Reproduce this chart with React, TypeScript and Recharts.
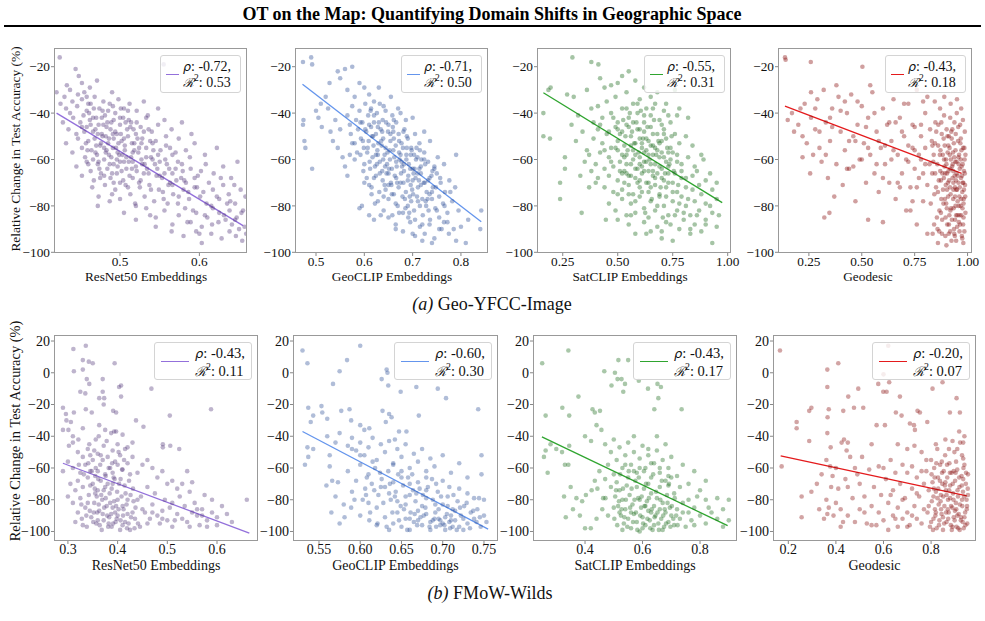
import React from 'react';
import { ScatterChart, Scatter, XAxis, YAxis, ReferenceLine } from 'recharts';

type Pt = [number, number];

const SERIF = '"Liberation Serif", "Times New Roman", serif';

// ---------- (a) Geo-YFCC-Image ----------
const yfccResnet: Pt[] = [
  [0.424,-16],[0.444,-21],[0.448,-24],[0.433,-28],[0.42,-31],[0.437,-30],[0.452,-27],[0.462,-29],[0.471,-26],[0.458,-33],[0.555,-19],[0.43,-33],[0.447,-32],[0.49,-31],
  [0.425,-36],[0.432,-38],[0.44,-35],[0.446,-37],[0.452,-34],[0.458,-39],[0.463,-36],[0.468,-33],[0.474,-38],[0.479,-35],[0.485,-39],[0.491,-37],[0.498,-34],[0.505,-38],[0.512,-36],[0.521,-39],[0.437,-40],[0.455,-31],[0.53,-35],[0.548,-38],
  [0.428,-44],[0.435,-47],[0.441,-42],[0.445,-49],[0.45,-44],[0.454,-41],[0.458,-46],[0.462,-43],[0.466,-48],[0.47,-42],[0.473,-45],[0.477,-49],[0.481,-41],[0.484,-44],[0.488,-47],[0.492,-43],[0.496,-49],[0.5,-45],[0.504,-42],[0.509,-47],[0.514,-44],[0.52,-49],[0.526,-46],[0.533,-42],[0.54,-48],[0.548,-45],[0.556,-43],[0.565,-47],[0.578,-44],[0.59,-49],
  [0.432,-53],[0.44,-57],[0.447,-51],[0.452,-55],[0.456,-59],[0.46,-52],[0.464,-56],[0.468,-51],[0.471,-58],[0.475,-54],[0.478,-50],[0.482,-57],[0.485,-53],[0.489,-59],[0.492,-51],[0.495,-55],[0.499,-58],[0.502,-52],[0.506,-56],[0.51,-50],[0.514,-59],[0.518,-53],[0.523,-57],[0.528,-51],[0.533,-55],[0.539,-59],[0.545,-52],[0.551,-56],[0.558,-54],[0.566,-58],[0.574,-51],[0.583,-56],[0.594,-53],[0.607,-58],[0.622,-55],
  [0.445,-63],[0.452,-67],[0.458,-61],[0.463,-65],[0.467,-69],[0.472,-62],[0.476,-66],[0.48,-60],[0.484,-64],[0.488,-68],[0.492,-62],[0.496,-66],[0.5,-61],[0.504,-69],[0.508,-64],[0.512,-67],[0.516,-61],[0.521,-65],[0.526,-69],[0.531,-62],[0.536,-66],[0.541,-60],[0.547,-64],[0.553,-68],[0.559,-62],[0.566,-66],[0.573,-61],[0.581,-69],[0.589,-64],[0.598,-67],[0.608,-62],[0.618,-66],[0.63,-63],[0.64,-68],[0.648,-61],
  [0.465,-72],[0.473,-76],[0.481,-71],[0.487,-78],[0.494,-73],[0.5,-77],[0.507,-71],[0.513,-75],[0.519,-79],[0.525,-72],[0.531,-76],[0.537,-71],[0.543,-78],[0.549,-73],[0.555,-77],[0.561,-71],[0.567,-75],[0.573,-79],[0.58,-73],[0.587,-77],[0.594,-72],[0.601,-76],[0.609,-79],[0.617,-73],[0.625,-77],[0.63,-71],[0.637,-75],[0.645,-79],[0.652,-73],[0.658,-76],
  [0.472,-80],[0.505,-83],[0.52,-86],[0.533,-81],[0.545,-85],[0.556,-82],[0.566,-88],[0.574,-84],[0.582,-81],[0.589,-87],[0.596,-83],[0.603,-89],[0.61,-85],[0.617,-81],[0.624,-87],[0.631,-84],[0.638,-82],[0.641,-88],[0.647,-85],[0.653,-83],[0.657,-89],[0.545,-89],
  [0.565,-91],[0.58,-93],[0.596,-91],[0.603,-96],[0.615,-92],[0.628,-94],[0.638,-91],[0.646,-93],[0.654,-95],[0.659,-92],
  [0.461,-40],[0.469,-47],[0.476,-53],[0.483,-46],[0.487,-62],[0.491,-55],[0.494,-40],[0.497,-63],[0.501,-49],[0.503,-58],[0.507,-44],[0.511,-61],[0.515,-53],[0.517,-47],[0.52,-63],[0.524,-55],[0.527,-60],[0.53,-48],[0.534,-64],[0.538,-52],
  [0.469,-57],[0.474,-64],[0.479,-45],[0.486,-51],[0.49,-66],[0.498,-53],[0.505,-61],[0.51,-39],[0.455,-48],[0.459,-56],[0.466,-60],[0.48,-55],[0.5,-70],[0.516,-68],[0.544,-62],[0.55,-67],[0.557,-60],[0.563,-70],[0.57,-64],[0.577,-68],
  [0.452,-46],[0.457,-53],[0.46,-62],[0.463,-45],[0.467,-38],[0.47,-54],[0.473,-61],[0.477,-42],[0.48,-67],[0.482,-50],[0.486,-58],[0.489,-44],[0.492,-70],[0.494,-48],[0.497,-57],[0.5,-42],[0.502,-65],[0.505,-51],[0.508,-59],[0.51,-72],
  [0.513,-46],[0.515,-64],[0.518,-56],[0.521,-44],[0.524,-70],[0.527,-53],[0.53,-66],[0.533,-59],[0.536,-47],[0.539,-73],[0.542,-56],[0.546,-67],[0.55,-61],[0.554,-74],[0.558,-50],[0.562,-64],[0.566,-71],[0.57,-57],[0.574,-76],[0.578,-62],
  [0.583,-70],[0.588,-59],[0.592,-82],[0.597,-72],[0.602,-65],[0.607,-84],[0.612,-70],[0.616,-88],[0.622,-76],[0.627,-68],[0.633,-86],[0.639,-78],[0.644,-71],[0.65,-90],[0.655,-82],[0.46,-36],[0.466,-42],[0.472,-49],[0.478,-39],[0.483,-56],
  [0.487,-36],[0.491,-49],[0.496,-60],[0.501,-38],[0.506,-54],[0.511,-43],[0.516,-57],[0.522,-51],[0.528,-62],[0.535,-41],[0.541,-53],[0.548,-58],[0.556,-66],[0.563,-55],[0.571,-69],[0.579,-65],[0.586,-74],[0.594,-68],[0.605,-74],[0.615,-80],
  [0.625,-83],[0.635,-79],[0.645,-86],[0.52,-80],[0.538,-84],[0.56,-79],[0.585,-87],[0.6,-92],[0.475,-68],[0.49,-75],
];

const yfccGeoclip: Pt[] = [
  [0.473,-18],[0.49,-16],[0.492,-19],[0.474,-43],[0.473,-45],[0.476,-52],[0.478,-55],[0.492,-64],[0.5,-39],[0.51,-36],[0.505,-42],[0.512,-46],[0.52,-33],[0.525,-38],[0.53,-48],[0.535,-52],[0.528,-27],[0.545,-22],[0.55,-25],[0.56,-21],[0.575,-20],[0.59,-27],[0.565,-30],[0.58,-33],[0.6,-29],[0.61,-32],[0.62,-35],[0.63,-29],[0.64,-37],[0.655,-33],[0.67,-38],[0.54,-43],[0.55,-47],[0.545,-55],[0.555,-59],[0.56,-63],[0.57,-58],[0.565,-67],[0.59,-81],[0.595,-80],[0.6,-70],[0.615,-75],[0.61,-84],[0.62,-86],
  [0.565,-41],[0.575,-37],[0.583,-43],[0.59,-39],[0.596,-44],[0.602,-36],[0.608,-41],[0.614,-38],[0.62,-44],[0.626,-40],[0.632,-36],[0.638,-43],[0.644,-39],[0.65,-45],[0.658,-41],[0.666,-44],[0.675,-40],[0.686,-43],[0.7,-42],
  [0.572,-49],[0.58,-53],[0.587,-47],[0.593,-51],[0.599,-55],[0.604,-48],[0.609,-52],[0.614,-46],[0.619,-54],[0.624,-49],[0.629,-53],[0.634,-47],[0.639,-51],[0.644,-55],[0.649,-48],[0.654,-52],[0.659,-46],[0.665,-54],[0.671,-49],[0.677,-53],[0.683,-47],[0.69,-51],[0.697,-55],[0.705,-49],[0.714,-53],[0.724,-48],[0.736,-52],
  [0.592,-58],[0.6,-62],[0.606,-57],[0.612,-64],[0.617,-59],[0.622,-63],[0.627,-56],[0.632,-61],[0.637,-65],[0.642,-58],[0.647,-62],[0.652,-56],[0.657,-64],[0.662,-59],[0.667,-63],[0.672,-57],[0.677,-61],[0.682,-65],[0.687,-58],[0.692,-62],[0.698,-56],[0.704,-64],[0.71,-59],[0.717,-63],[0.724,-57],[0.732,-61],[0.741,-65],[0.752,-59],[0.765,-62],[0.79,-58],
  [0.605,-68],[0.615,-72],[0.624,-67],[0.631,-74],[0.638,-69],[0.644,-73],[0.65,-66],[0.656,-71],[0.661,-75],[0.666,-68],[0.671,-72],[0.676,-66],[0.681,-70],[0.686,-74],[0.691,-67],[0.696,-71],[0.701,-75],[0.706,-68],[0.711,-72],[0.717,-66],[0.723,-70],[0.729,-74],[0.735,-68],[0.742,-72],[0.75,-66],[0.758,-70],[0.767,-74],[0.776,-69],[0.788,-72],
  [0.628,-78],[0.64,-82],[0.65,-77],[0.658,-84],[0.665,-79],[0.672,-83],[0.679,-76],[0.685,-81],[0.691,-85],[0.697,-78],[0.703,-82],[0.709,-76],[0.715,-80],[0.721,-84],[0.727,-78],[0.733,-82],[0.74,-77],[0.747,-81],[0.755,-85],[0.763,-79],[0.772,-83],[0.782,-78],[0.795,-82],
  [0.665,-88],[0.68,-91],[0.695,-87],[0.705,-93],[0.715,-89],[0.725,-92],[0.735,-88],[0.745,-94],[0.755,-90],[0.765,-87],[0.775,-92],[0.79,-95],[0.81,-96],[0.8,-89],[0.842,-82],[0.84,-90],[0.815,-86],
  [0.618,-50],[0.628,-58],[0.636,-54],[0.646,-66],[0.653,-60],[0.661,-51],[0.668,-70],[0.675,-58],[0.682,-62],[0.688,-55],[0.694,-76],[0.7,-64],[0.707,-60],[0.713,-69],[0.72,-77],[0.726,-62],[0.61,-45],[0.63,-44],[0.66,-48],[0.69,-80],[0.7,-69],[0.715,-56],[0.735,-75],[0.745,-63],[0.64,-76],[0.65,-71],
  [0.602,-47],[0.607,-55],[0.611,-61],[0.616,-50],[0.62,-68],[0.624,-58],[0.628,-46],[0.632,-66],[0.635,-52],[0.639,-60],[0.642,-71],[0.645,-44],[0.648,-57],[0.651,-64],[0.654,-49],[0.657,-75],[0.66,-56],[0.663,-67],[0.666,-61],[0.669,-80],
  [0.672,-52],[0.675,-70],[0.678,-63],[0.681,-48],[0.684,-77],[0.687,-60],[0.69,-69],[0.693,-83],[0.696,-58],[0.699,-73],[0.702,-66],[0.705,-86],[0.708,-55],[0.711,-78],[0.714,-64],[0.717,-71],[0.72,-88],[0.724,-60],[0.728,-80],[0.732,-69],
  [0.736,-86],[0.74,-74],[0.745,-64],[0.75,-82],[0.755,-76],[0.76,-90],[0.766,-80],[0.772,-87],[0.778,-74],[0.785,-90],[0.592,-44],[0.597,-52],[0.613,-39],[0.626,-62],[0.637,-48],[0.643,-63],[0.655,-70],[0.661,-43],[0.673,-60],[0.68,-55],
  [0.688,-50],[0.695,-64],[0.703,-58],[0.71,-66],[0.718,-60],[0.725,-70],[0.731,-77],[0.739,-67],[0.748,-72],[0.757,-68],[0.585,-57],[0.598,-65],[0.61,-71],[0.622,-79],[0.634,-84],[0.65,-85],[0.665,-90],[0.68,-83],[0.7,-92],[0.72,-95],
  [0.74,-96],[0.575,-53],[0.62,-41],[0.57,-45],[0.58,-60],
];

const yfccSatclip: Pt[] = [
  [0.162,-40],[0.162,-50],[0.192,-51],[0.185,-30],[0.195,-29],[0.238,-70],[0.238,-77],[0.26,-59],[0.26,-64],[0.294,-16],[0.27,-32],[0.3,-33],[0.32,-41],[0.336,-83],[0.38,-18],[0.412,-19],[0.446,-86],[0.29,-45],[0.31,-52],[0.34,-48],[0.35,-61],[0.36,-56],[0.33,-67],[0.37,-72],[0.39,-44],[0.38,-38],[0.36,-30],[0.42,-25],[0.44,-29],[0.47,-28],[0.5,-27],[0.52,-24],[0.55,-22],[0.58,-26],[0.62,-29],[0.65,-33],[0.68,-31],[0.72,-36],[0.76,-30],[0.78,-38],[0.82,-42],
  [0.41,-37],[0.43,-42],[0.45,-35],[0.47,-40],[0.49,-33],[0.5,-44],[0.52,-38],[0.54,-31],[0.55,-42],[0.57,-36],[0.59,-40],[0.6,-34],[0.62,-44],[0.63,-38],[0.65,-41],[0.67,-36],[0.69,-43],[0.71,-39],[0.74,-44],[0.77,-41],
  [0.39,-51],[0.41,-47],[0.43,-53],[0.45,-49],[0.47,-55],[0.49,-46],[0.5,-52],[0.52,-48],[0.53,-54],[0.55,-46],[0.56,-50],[0.58,-53],[0.59,-47],[0.6,-51],[0.61,-55],[0.62,-48],[0.64,-52],[0.65,-46],[0.66,-54],[0.68,-49],[0.69,-53],[0.71,-47],[0.72,-51],[0.74,-55],[0.76,-49],[0.78,-53],[0.81,-50],[0.84,-54],
  [0.37,-58],[0.4,-62],[0.42,-57],[0.44,-64],[0.46,-59],[0.48,-63],[0.5,-56],[0.51,-61],[0.53,-65],[0.54,-58],[0.56,-62],[0.57,-56],[0.58,-64],[0.6,-59],[0.61,-63],[0.62,-57],[0.63,-61],[0.64,-65],[0.66,-58],[0.67,-62],[0.68,-56],[0.7,-64],[0.71,-59],[0.73,-63],[0.75,-57],[0.77,-61],[0.79,-65],[0.82,-59],[0.85,-63],[0.89,-60],
  [0.41,-68],[0.44,-72],[0.46,-67],[0.48,-74],[0.5,-69],[0.52,-73],[0.54,-66],[0.55,-71],[0.57,-75],[0.58,-68],[0.6,-72],[0.61,-66],[0.63,-70],[0.64,-74],[0.66,-67],[0.67,-71],[0.69,-75],[0.7,-68],[0.72,-72],[0.73,-66],[0.75,-70],[0.77,-74],[0.79,-68],[0.81,-72],[0.84,-67],[0.87,-71],[0.9,-69],[0.93,-73],
  [0.46,-79],[0.49,-82],[0.52,-77],[0.54,-84],[0.56,-79],[0.58,-83],[0.6,-76],[0.62,-81],[0.64,-85],[0.65,-78],[0.67,-82],[0.69,-76],[0.71,-80],[0.73,-84],[0.75,-78],[0.77,-82],[0.79,-76],[0.81,-80],[0.83,-84],[0.85,-78],[0.87,-82],[0.9,-79],[0.93,-83],[0.95,-77],
  [0.5,-86],[0.55,-88],[0.58,-92],[0.62,-87],[0.65,-91],[0.68,-89],[0.7,-94],[0.72,-87],[0.75,-95],[0.78,-90],[0.8,-86],[0.83,-92],[0.85,-88],[0.88,-91],[0.9,-86],[0.93,-96],[0.95,-89],[0.96,-84],
  [0.51,-49],[0.53,-59],[0.55,-67],[0.57,-44],[0.58,-58],[0.59,-70],[0.6,-47],[0.61,-53],[0.62,-65],[0.63,-51],[0.64,-58],[0.65,-62],[0.66,-49],[0.67,-55],[0.68,-66],[0.69,-59],[0.7,-52],[0.71,-69],[0.72,-61],[0.73,-57],[0.62,-41],[0.6,-62],[0.56,-54],[0.54,-45],[0.65,-72],[0.7,-45],[0.74,-60],[0.76,-66],
  [0.49,-55],[0.5,-47],[0.51,-65],[0.52,-58],[0.525,-43],[0.53,-70],[0.535,-50],[0.54,-62],[0.545,-56],[0.55,-75],[0.555,-40],[0.56,-67],[0.565,-48],[0.57,-60],[0.575,-53],[0.58,-78],[0.585,-44],[0.59,-64],[0.595,-57],[0.6,-69],
  [0.605,-39],[0.61,-74],[0.615,-51],[0.62,-61],[0.625,-83],[0.63,-56],[0.635,-46],[0.64,-70],[0.645,-60],[0.65,-54],[0.655,-77],[0.66,-65],[0.665,-43],[0.67,-68],[0.675,-58],[0.68,-80],[0.685,-52],[0.69,-63],[0.695,-72],[0.7,-57],
  [0.705,-85],[0.71,-49],[0.715,-66],[0.72,-76],[0.725,-55],[0.73,-70],[0.735,-62],[0.74,-88],[0.745,-50],[0.75,-74],[0.755,-65],[0.76,-84],[0.77,-58],[0.775,-71],[0.78,-79],[0.79,-62],[0.8,-83],[0.81,-68],[0.82,-77],[0.83,-90],
  [0.84,-73],[0.86,-84],[0.88,-75],[0.9,-88],[0.92,-80],[0.46,-48],[0.47,-61],[0.48,-42],[0.5,-75],[0.52,-66],[0.54,-38],[0.56,-84],[0.59,-36],[0.63,-92],[0.66,-38],[0.7,-91],[0.73,-41],[0.44,-56],[0.42,-45],[0.4,-70],
  [0.38,-65],[0.86,-65],[0.88,-58],[0.92,-66],[0.95,-70],
];

const yfccGeodesic: Pt[] = [
  [0.137,-16],[0.14,-17],[0.259,-18],[0.503,-20],[0.256,-66],[0.323,-85],[0.347,-83],[0.53,-86],[0.6,-87],
  [0.15,-43],[0.17,-40],[0.18,-48],[0.2,-45],[0.21,-38],[0.22,-50],[0.23,-36],[0.24,-53],[0.26,-42],[0.27,-58],[0.28,-47],[0.29,-34],[0.3,-55],[0.31,-61],[0.32,-30],[0.33,-44],[0.34,-68],[0.35,-52],[0.36,-38],[0.37,-76],[0.38,-62],[0.39,-33],[0.4,-48],[0.41,-71],[0.42,-56],[0.43,-40],[0.44,-64],[0.45,-32],[0.46,-50],[0.47,-78],[0.48,-45],[0.49,-60],[0.5,-37],[0.51,-53],[0.52,-70],[0.53,-42],[0.54,-58],[0.55,-31],[0.56,-66],[0.57,-48],[0.58,-74],[0.59,-55],[0.6,-38],[0.61,-62],[0.62,-45],[0.63,-70],[0.64,-52],[0.65,-34],[0.66,-77],[0.67,-58],[0.68,-42],[0.69,-66],[0.7,-50],[0.71,-82],[0.72,-36],[0.72,-61],[0.73,-72],[0.74,-45],[0.75,-56],[0.76,-88],[0.76,-30],[0.77,-68],[0.78,-50],[0.79,-78],[0.8,-40],[0.8,-62],[0.81,-92],[0.81,-33],
  [0.28,-38],[0.36,-46],[0.38,-28],[0.42,-35],[0.44,-52],[0.46,-63],[0.48,-35],[0.52,-46],[0.54,-28],[0.56,-40],[0.58,-52],[0.6,-68],[0.64,-60],[0.66,-44],[0.68,-72],[0.7,-36],[0.72,-54],[0.74,-78],[0.75,-46],[0.78,-60],[0.79,-35],[0.33,-58],[0.26,-31],[0.22,-59],
  [0.823,-47],[0.838,-61],[0.846,-53],[0.851,-72],[0.862,-45],[0.869,-58],[0.874,-83],[0.881,-66],[0.887,-51],[0.893,-77],[0.898,-60],[0.904,-88],[0.909,-54],[0.913,-69],[0.918,-42],[0.922,-81],[0.927,-63],[0.931,-57],[0.936,-90],[0.94,-72],[0.944,-49],[0.948,-66],[0.952,-84],[0.957,-59],[0.961,-76],[0.965,-45],[0.969,-68],[0.973,-93],[0.977,-62],[0.981,-79],[0.985,-55],[0.988,-71],
  [0.826,-79],[0.833,-66],[0.842,-88],[0.857,-62],[0.866,-91],[0.878,-49],[0.884,-73],[0.891,-63],[0.896,-85],[0.901,-47],[0.907,-70],[0.911,-92],[0.916,-58],[0.92,-75],[0.925,-51],[0.929,-68],[0.934,-81],[0.938,-44],[0.942,-61],[0.946,-95],[0.95,-73],[0.955,-52],[0.959,-87],[0.963,-64],[0.967,-80],[0.971,-56],[0.975,-74],[0.979,-88],[0.983,-65],[0.987,-48],[0.99,-83],
  [0.831,-52],[0.848,-44],[0.855,-85],[0.864,-69],[0.872,-56],[0.879,-92],[0.889,-41],[0.894,-66],[0.899,-79],[0.906,-57],[0.914,-84],[0.919,-64],[0.924,-95],[0.928,-47],[0.933,-73],[0.937,-59],[0.941,-86],[0.945,-69],[0.949,-40],[0.953,-78],[0.958,-62],[0.962,-91],[0.966,-53],[0.97,-84],[0.974,-67],[0.978,-43],[0.982,-77],[0.986,-60],
  [0.845,-35],[0.87,-38],[0.89,-33],[0.92,-36],[0.95,-34],[0.97,-38],[0.86,-96],[0.9,-97],[0.94,-93],[0.98,-96],[0.835,-92],[0.876,-77],[0.903,-66],[0.932,-65],[0.957,-70],[0.98,-70],[0.912,-50],[0.943,-80],[0.968,-60],
  [0.84,-58],[0.843,-75],[0.852,-48],[0.858,-90],[0.861,-54],[0.867,-82],[0.871,-65],[0.876,-44],[0.88,-86],[0.883,-58],[0.886,-79],[0.888,-68],[0.892,-54],[0.895,-93],[0.897,-71],[0.9,-62],[0.902,-81],[0.905,-50],[0.908,-76],[0.91,-65],
  [0.912,-88],[0.915,-55],[0.917,-72],[0.919,-82],[0.921,-60],[0.923,-48],[0.926,-86],[0.93,-62],[0.932,-77],[0.935,-53],[0.937,-92],[0.939,-67],[0.941,-76],[0.943,-56],[0.946,-84],[0.948,-61],[0.951,-89],[0.953,-67],[0.956,-46],[0.958,-80],
  [0.96,-58],[0.963,-72],[0.965,-88],[0.968,-51],[0.97,-77],[0.972,-63],[0.975,-94],[0.977,-70],[0.979,-55],[0.981,-85],[0.983,-73],[0.985,-91],[0.987,-66],[0.989,-76],[0.99,-58],[0.976,-81],[0.962,-84],[0.947,-73],[0.933,-70],[0.918,-91],
  [0.903,-73],[0.889,-60],[0.874,-69],[0.86,-74],[0.847,-66],[0.834,-54],[0.82,-62],[0.81,-71],[0.8,-55],[0.79,-66],[0.78,-45],[0.77,-58],[0.76,-72],[0.75,-64],[0.74,-55],[0.73,-82],[0.71,-60],[0.69,-48],[0.67,-70],[0.65,-56],
  [0.63,-44],[0.61,-54],[0.57,-62],[0.53,-55],[0.5,-60],[0.47,-52],[0.43,-64],[0.4,-39],[0.35,-42],[0.3,-48],
];

// ---------- (b) FMoW-Wilds ----------
const fmowResnet: Pt[] = [
  [0.311,15],[0.336,17],[0.33,8],[0.342,7],[0.35,6],[0.394,6],[0.312,1],[0.33,2],[0.338,-4],[0.343,-7],[0.37,-4],[0.403,-9],[0.407,-8],[0.468,-10],[0.325,-12],[0.335,-13],[0.37,-12],[0.373,-16],[0.363,-16],[0.407,-15],[0.29,-22],[0.372,-20],[0.312,-25],[0.296,-26],[0.336,-23],[0.348,-25],[0.391,-24],[0.397,-25],[0.437,-30],[0.588,-23],[0.505,-27],[0.452,-34],[0.297,-30],[0.306,-31],[0.29,-36],[0.301,-36],[0.31,-40],[0.33,-35],[0.363,-33],[0.375,-36],[0.393,-37],[0.397,-37],[0.41,-39],[0.362,-40],[0.321,-42],[0.31,-44],[0.302,-46],
  [0.491,-45],[0.491,-47],[0.506,-46],[0.524,-48],[0.32,-50],[0.33,-53],[0.34,-48],[0.35,-55],[0.36,-51],[0.365,-58],[0.372,-46],[0.38,-53],[0.385,-60],[0.39,-49],[0.395,-56],[0.4,-45],[0.405,-52],[0.41,-61],[0.415,-48],[0.42,-57],[0.43,-53],[0.44,-63],[0.45,-58],[0.47,-60],[0.48,-66],[0.3,-56],[0.29,-62],[0.31,-60],[0.325,-63],[0.335,-58],[0.345,-62],[0.355,-65],[0.345,-52],[0.36,-62],[0.375,-64],[0.39,-63],[0.4,-58],[0.425,-64],[0.46,-55],[0.49,-62],[0.51,-68],[0.55,-69],[0.42,-47],[0.43,-44],
  [0.305,-70],[0.315,-74],[0.32,-68],[0.325,-79],[0.33,-72],[0.335,-85],[0.34,-66],[0.342,-77],[0.347,-91],[0.35,-70],[0.353,-82],[0.357,-95],[0.36,-74],[0.363,-87],[0.366,-68],[0.369,-80],[0.372,-93],[0.375,-72],[0.378,-84],[0.381,-97],[0.384,-76],[0.387,-89],[0.39,-70],[0.393,-81],[0.396,-94],[0.399,-75],[0.402,-86],[0.405,-99],[0.408,-78],[0.411,-90],[0.414,-71],[0.418,-83],[0.422,-95],[0.426,-77],[0.43,-88],[0.435,-92],[0.44,-80],[0.445,-97],[0.45,-86],
  [0.328,-92],[0.338,-97],[0.352,-88],[0.368,-99],[0.383,-91],[0.395,-88],[0.41,-96],[0.425,-99],[0.358,-78],[0.376,-79],[0.392,-66],[0.406,-67],[0.32,-88],[0.31,-82],[0.3,-78],[0.315,-94],[0.33,-96],[0.345,-71],[0.362,-83],[0.38,-70],[0.398,-92],[0.34,-82],[0.37,-89],[0.39,-85],[0.41,-84],[0.36,-93],[0.382,-95],[0.4,-80],[0.355,-76],[0.372,-74],[0.388,-97],[0.42,-89],[0.432,-81],[0.415,-94],
  [0.46,-72],[0.47,-83],[0.48,-90],[0.485,-95],[0.49,-87],[0.495,-80],[0.5,-93],[0.505,-85],[0.51,-97],[0.52,-89],[0.525,-78],[0.53,-92],[0.535,-84],[0.54,-94],[0.55,-88],[0.555,-82],[0.56,-90],[0.565,-96],[0.57,-86],[0.58,-93],[0.59,-88],[0.6,-91],[0.62,-89],[0.63,-94],[0.545,-75],[0.575,-77],[0.465,-92],[0.475,-76],[0.5,-70],[0.52,-73],[0.56,-86],[0.59,-80],[0.66,-80],[0.455,-88],[0.51,-82],[0.53,-70],[0.54,-62],
  [0.322,-58],[0.327,-83],[0.332,-64],[0.337,-90],[0.341,-57],[0.344,-87],[0.348,-62],[0.351,-94],[0.354,-73],[0.356,-60],[0.359,-88],[0.361,-67],[0.364,-96],[0.367,-77],[0.37,-55],[0.373,-85],[0.376,-65],[0.379,-90],[0.382,-60],[0.385,-82],
  [0.388,-73],[0.391,-95],[0.394,-67],[0.397,-84],[0.4,-90],[0.403,-70],[0.406,-93],[0.409,-61],[0.412,-86],[0.416,-76],[0.419,-98],[0.423,-68],[0.427,-91],[0.431,-73],[0.436,-85],[0.441,-95],[0.447,-78],[0.343,-45],[0.353,-49],[0.366,-52],
  [0.378,-43],[0.389,-57],[0.402,-50],[0.413,-55],[0.387,-38],[0.356,-42],[0.42,-80],[0.434,-98],[0.46,-95],[0.47,-88],[0.49,-92],[0.515,-93],[0.545,-97],[0.58,-97],[0.6,-96],[0.61,-84],[0.57,-90],
];

const fmowGeoclip: Pt[] = [
  [0.53,14],[0.536,6],[0.6,17],[0.584,8],[0.575,1],[0.567,-7],[0.632,2],[0.633,0],[0.626,-4],[0.634,-8],[0.649,-12],[0.668,-9],[0.694,-10],[0.704,-16],[0.743,-23],[0.537,-22],[0.553,-21],[0.54,-31],[0.543,-27],[0.554,-25],[0.56,-29],[0.577,-24],[0.587,-23],[0.589,-30],[0.6,-33],[0.605,-36],[0.611,-35],[0.627,-24],[0.635,-26],[0.638,-28],[0.631,-31],[0.671,-27],[0.656,-37],[0.647,-37],[0.642,-42],[0.747,-52],[0.747,-64],[0.744,-79],[0.75,-80],[0.533,-58],[0.537,-53],[0.536,-47],[0.543,-48],[0.563,-52],[0.559,-71],[0.566,-68],[0.563,-59],[0.573,-69],[0.581,-91],[0.593,-80],[0.589,-85],[0.607,-77],[0.611,-93],
  [0.56,-40],[0.57,-44],[0.575,-38],[0.585,-46],[0.59,-41],[0.595,-49],[0.6,-44],[0.605,-52],[0.61,-47],[0.615,-41],[0.62,-55],[0.625,-45],[0.63,-50],[0.635,-43],[0.64,-57],[0.645,-48],[0.65,-53],[0.655,-45],[0.66,-60],[0.665,-51],[0.67,-56],[0.675,-48],[0.68,-62],[0.685,-54],[0.69,-59],[0.7,-52],[0.71,-63],[0.72,-57],[0.73,-66],
  [0.585,-62],[0.595,-68],[0.6,-58],[0.606,-73],[0.61,-64],[0.614,-70],[0.618,-60],[0.622,-77],[0.626,-67],[0.63,-72],[0.634,-62],[0.637,-80],[0.64,-69],[0.643,-75],[0.646,-64],[0.649,-84],[0.652,-71],[0.655,-78],[0.658,-66],[0.661,-88],[0.664,-74],[0.667,-81],[0.67,-69],[0.673,-91],[0.676,-77],[0.679,-85],[0.682,-72],[0.685,-94],[0.688,-80],[0.691,-88],[0.694,-75],[0.697,-96],[0.7,-83],[0.703,-91],[0.706,-78],[0.709,-98],[0.712,-86],[0.715,-93],[0.718,-81],[0.722,-90],[0.726,-84],[0.73,-95],[0.734,-88],[0.738,-92],[0.742,-86],[0.746,-97],[0.75,-90],[0.753,-94],
  [0.62,-85],[0.63,-91],[0.64,-95],[0.645,-88],[0.65,-97],[0.655,-92],[0.66,-99],[0.665,-94],[0.67,-87],[0.675,-96],[0.68,-89],[0.685,-99],[0.69,-92],[0.695,-86],[0.7,-95],[0.705,-89],[0.71,-93],[0.715,-87],[0.72,-97],[0.725,-99],[0.6,-90],[0.61,-82],[0.59,-75],[0.58,-83],[0.57,-78],[0.565,-88],[0.575,-95],[0.62,-96],[0.635,-99],[0.655,-83],[0.668,-76],[0.692,-70],[0.708,-72],[0.73,-76],[0.738,-79],[0.65,-62],[0.64,-58],[0.66,-70],[0.68,-66],[0.7,-68],[0.72,-73],
  [0.603,-80],[0.608,-66],[0.612,-88],[0.617,-74],[0.621,-95],[0.624,-63],[0.628,-82],[0.632,-97],[0.636,-70],[0.639,-88],[0.642,-78],[0.647,-93],[0.65,-66],[0.653,-86],[0.657,-99],[0.66,-77],[0.663,-64],[0.666,-89],[0.669,-96],[0.672,-73],
  [0.677,-90],[0.68,-79],[0.684,-97],[0.687,-67],[0.691,-83],[0.695,-92],[0.698,-78],[0.702,-96],[0.706,-84],[0.71,-90],[0.713,-77],[0.717,-99],[0.721,-85],[0.725,-92],[0.729,-82],[0.733,-98],[0.737,-87],[0.741,-94],[0.745,-91],[0.692,-97],
  [0.697,-93],[0.703,-99],[0.708,-94],[0.712,-97],[0.688,-93],[0.67,-93],[0.66,-92],[0.645,-81],[0.635,-76],[0.625,-72],[0.615,-56],[0.6,-52],[0.59,-48],[0.68,-74],[0.675,-84],
];

const fmowSatclip: Pt[] = [
  [0.251,6],[0.342,14],[0.516,8],[0.55,8],[0.467,1],[0.504,0],[0.513,-4],[0.527,-4],[0.533,-12],[0.492,-8],[0.539,-7],[0.587,-5],[0.619,-10],[0.652,-7],[0.664,-9],[0.655,-16],[0.641,-23],[0.736,-23],[0.321,-22],[0.263,-27],[0.377,-15],[0.345,-27],[0.426,-23],[0.434,-25],[0.452,-24],[0.44,-33],[0.457,-36],[0.257,-53],[0.263,-49],[0.32,-50],[0.345,-46],[0.342,-58],[0.4,-40],[0.421,-43],[0.327,-78],[0.333,-91],[0.358,-86],[0.382,-90],[0.4,-98],[0.403,-77],[0.423,-74],[0.434,-68],[0.443,-73],[0.463,-79],[0.471,-79],
  [0.47,-45],[0.49,-50],[0.5,-42],[0.51,-55],[0.52,-47],[0.53,-60],[0.54,-52],[0.55,-44],[0.56,-58],[0.57,-50],[0.58,-63],[0.59,-54],[0.6,-46],[0.61,-60],[0.62,-52],[0.63,-66],[0.64,-57],[0.65,-49],[0.66,-63],[0.67,-55],[0.68,-68],[0.69,-60],[0.7,-53],[0.72,-65],[0.74,-58],[0.76,-70],[0.78,-62],[0.8,-74],[0.82,-68],
  [0.45,-62],[0.47,-67],[0.48,-58],[0.49,-72],[0.5,-64],[0.505,-78],[0.51,-69],[0.515,-84],[0.52,-74],[0.525,-90],[0.53,-80],[0.535,-95],[0.54,-86],[0.545,-71],[0.55,-92],[0.555,-77],[0.56,-98],[0.565,-83],[0.57,-89],[0.575,-68],[0.58,-94],[0.585,-79],[0.59,-100],[0.595,-85],[0.6,-91],[0.605,-73],[0.61,-96],[0.615,-81],[0.62,-87],[0.625,-93],[0.63,-76],[0.635,-99],[0.64,-84],[0.645,-90],[0.65,-79],[0.655,-95],[0.66,-86],[0.665,-92],[0.67,-82],[0.675,-97],[0.68,-88],[0.685,-77],[0.69,-94],[0.695,-85],[0.7,-90],
  [0.71,-96],[0.72,-86],[0.73,-92],[0.74,-82],[0.75,-97],[0.76,-88],[0.77,-93],[0.78,-85],[0.8,-90],[0.82,-95],[0.84,-88],[0.86,-92],[0.88,-97],[0.9,-93],[0.9,-80],[0.86,-79],[0.88,-86],[0.83,-85],[0.79,-78],[0.76,-80],[0.73,-72],[0.71,-76],[0.7,-66],[0.69,-71],[0.66,-72],[0.62,-70],[0.58,-72],[0.55,-66],[0.52,-88],[0.5,-85],[0.48,-90],[0.46,-86],[0.44,-92],[0.42,-98],[0.39,-81],[0.37,-79],[0.35,-72],[0.33,-58],[0.3,-48],[0.28,-45],[0.27,-63],[0.6,-98],[0.63,-88],[0.67,-99],[0.56,-88],[0.53,-99],[0.59,-80],[0.61,-84],[0.64,-96],[0.605,-62],[0.57,-62],
  [0.502,-92],[0.508,-74],[0.512,-96],[0.518,-81],[0.522,-64],[0.527,-86],[0.532,-73],[0.537,-91],[0.542,-80],[0.547,-97],[0.552,-62],[0.557,-85],[0.562,-73],[0.567,-94],[0.572,-80],[0.577,-88],[0.582,-99],[0.587,-66],[0.592,-90],[0.597,-78],
  [0.602,-95],[0.607,-84],[0.612,-70],[0.617,-92],[0.622,-79],[0.627,-98],[0.632,-86],[0.637,-64],[0.642,-91],[0.647,-75],[0.652,-88],[0.657,-99],[0.662,-80],[0.667,-68],[0.672,-90],[0.677,-86],[0.682,-95],[0.687,-82],[0.692,-70],[0.697,-97],
  [0.702,-84],[0.707,-92],[0.712,-79],[0.717,-90],[0.722,-96],[0.54,-58],[0.59,-60],[0.63,-57],[0.66,-60],[0.69,-65],[0.62,-48],[0.57,-40],[0.65,-40],[0.68,-45],[0.74,-88],[0.78,-96],[0.82,-80],
];

const fmowGeodesic: Pt[] = [
  [0.165,14],[0.172,-59],[0.256,-91],[0.256,-78],[0.235,-31],[0.235,-35],[0.288,-43],[0.288,-24],[0.297,-22],[0.297,-75],[0.364,2],[0.364,-9],[0.37,-23],[0.365,-28],[0.364,-38],[0.378,-47],[0.376,-59],[0.386,-65],[0.37,-85],[0.364,-89],[0.41,6],[0.452,-15],[0.431,-24],[0.434,-42],[0.424,-44],[0.445,-49],[0.45,-44],[0.476,-22],[0.494,-10],[0.515,-22],[0.571,-33],[0.606,-33],[0.599,-12],[0.613,-12],[0.578,-7],[0.624,-6],[0.669,-15],[0.652,-25],[0.676,-27],[0.711,-32],[0.728,-33],[0.732,-36],[0.743,-24],[0.753,-25],[0.784,-31],[0.806,-10],[0.848,-6],[0.907,-16],[0.879,-25],[0.921,-25],[0.918,-37],[0.935,-54],[0.935,-44],[0.62,17],[0.6,-1],
  [0.32,-70],[0.33,-86],[0.34,-64],[0.35,-92],[0.36,-55],[0.36,-80],[0.39,-90],[0.4,-60],[0.41,-73],[0.42,-86],[0.43,-94],[0.44,-67],[0.45,-90],[0.46,-53],[0.47,-79],[0.48,-94],[0.49,-64],[0.5,-70],[0.5,-86],[0.51,-53],[0.52,-78],[0.53,-95],[0.54,-61],[0.55,-84],[0.56,-72],[0.57,-96],[0.58,-59],[0.58,-88],[0.59,-77],[0.6,-93],[0.61,-67],[0.62,-82],[0.62,-99],[0.63,-55],[0.64,-74],[0.64,-90],[0.65,-63],[0.66,-85],[0.66,-97],[0.67,-70],[0.68,-58],[0.68,-92],[0.69,-79],[0.7,-63],[0.7,-88],[0.71,-96],[0.72,-73],[0.72,-59],[0.73,-84],[0.74,-92],[0.74,-66],[0.75,-78],[0.76,-50],[0.76,-95],[0.77,-70],[0.77,-86],[0.45,-72],[0.38,-72],[0.55,-45],[0.66,-45],[0.7,-48],[0.73,-46],[0.6,-60],
  [0.78,-62],[0.785,-88],[0.79,-74],[0.795,-97],[0.8,-55],[0.803,-81],[0.806,-69],[0.81,-92],[0.813,-60],[0.816,-86],[0.82,-75],[0.823,-98],[0.826,-48],[0.829,-66],[0.832,-83],[0.835,-93],[0.838,-58],[0.841,-77],[0.844,-89],[0.847,-70],[0.85,-99],[0.853,-62],[0.856,-84],[0.859,-52],[0.862,-74],[0.865,-94],[0.868,-66],[0.871,-80],[0.874,-88],[0.877,-57],[0.88,-71],[0.883,-96],[0.886,-63],[0.889,-85],[0.892,-76],[0.895,-91],[0.898,-50],[0.901,-68],[0.904,-82],[0.907,-97],[0.91,-61],[0.913,-78],[0.916,-89],[0.919,-72],[0.922,-44],[0.925,-93],[0.928,-65],[0.931,-84],[0.934,-75],[0.937,-98],[0.94,-58],[0.943,-88],[0.946,-70],[0.949,-80],[0.952,-95],[0.955,-64],
  [0.79,-84],[0.81,-78],[0.83,-73],[0.85,-91],[0.87,-86],[0.89,-97],[0.91,-90],[0.93,-80],[0.95,-86],[0.8,-94],[0.82,-88],[0.84,-81],[0.86,-69],[0.88,-79],[0.9,-87],[0.92,-99],[0.94,-91],[0.845,-56],[0.875,-48],[0.905,-56],[0.935,-67],[0.955,-77],[0.815,-66],[0.865,-77],[0.895,-62],
  [0.802,-64],[0.808,-99],[0.812,-73],[0.818,-90],[0.822,-57],[0.827,-79],[0.833,-96],[0.837,-68],[0.842,-86],[0.846,-63],[0.851,-78],[0.855,-95],[0.858,-71],[0.863,-88],[0.867,-58],[0.872,-92],[0.876,-74],[0.879,-63],[0.884,-84],[0.887,-99],
  [0.891,-70],[0.894,-80],[0.899,-93],[0.903,-63],[0.906,-86],[0.911,-74],[0.914,-98],[0.918,-66],[0.921,-83],[0.926,-91],[0.929,-71],[0.933,-94],[0.936,-60],[0.939,-78],[0.944,-96],[0.947,-63],[0.951,-84],[0.954,-73],[0.93,-52],[0.91,-48],
  [0.89,-43],[0.94,-40],[0.86,-42],[0.82,-45],[0.78,-55],[0.76,-62],[0.74,-76],[0.72,-90],[0.7,-97],[0.68,-80],[0.65,-92],[0.63,-77],[0.55,-96],[0.52,-88],[0.48,-60],[0.42,-97],[0.4,-82],
];

// regression line end points
const fitYfccResnet: Pt[] = [[0.42, -40], [0.655, -88.5]];
const fitYfccGeoclip: Pt[] = [[0.472, -27.6], [0.842, -86.8]];
const fitYfccSatclip: Pt[] = [[0.162, -31.2], [0.975, -78.6]];
const fitYfccGeodesic: Pt[] = [[0.137, -37], [0.972, -66]];
const fitFmowResnet: Pt[] = [[0.29, -57], [0.665, -101]];
const fitFmowGeoclip: Pt[] = [[0.53, -37], [0.755, -98.5]];
const fitFmowSatclip: Pt[] = [[0.25, -40.4], [0.896, -96.3]];
const fitFmowGeodesic: Pt[] = [[0.168, -52.3], [0.95, -77.5]];

// correlation stats shown in the legends
const yfccRho = ['-0.72', '-0.71', '-0.55', '-0.43'];
const yfccR2 = ['0.53', '0.50', '0.31', '0.18'];
const fmowRho = ['-0.43', '-0.60', '-0.43', '-0.20'];
const fmowR2 = ['0.11', '0.30', '0.17', '0.07'];

const xLabels = ['ResNet50 Embeddings', 'GeoCLIP Embeddings', 'SatCLIP Embeddings', 'Geodesic'];

const yfccYTicks = [-100, -80, -60, -40, -20];
const fmowYTicks = [-100, -80, -60, -40, -20, 0, 20];
const yfccXTicks = [[0.5, 0.6], [0.5, 0.6, 0.7, 0.8], [0.25, 0.5, 0.75, 1.0], [0.25, 0.5, 0.75, 1.0]];
const fmowXTicks = [[0.3, 0.4, 0.5, 0.6], [0.55, 0.6, 0.65, 0.7, 0.75], [0.4, 0.6, 0.8], [0.2, 0.4, 0.6, 0.8]];

const DOTS = ['#553a7c', '#2f5199', '#1d6b1d', '#8a1010'];
const LINES = ['#9370db', '#6495ed', '#2fa52f', '#e41a1c'];

const YW = 44;
const XH = 30;
const PAD = 3;
const RIGHT = 18;

interface Frame { left: number; top: number; width: number; height: number }
interface LegendSpec { width: number; height: number; handleLeft: number; handle: number; textLeft: number; fontSize: number; lineHeight: number; padTop: number }

interface PanelProps {
  frame: Frame;
  xDomain: [number, number];
  yDomain: [number, number];
  xTicks: number[];
  xDigits: number;
  yTicks: number[];
  points: Pt[];
  fit: Pt[];
  dot: string;
  line: string;
  fontSize: number;
  tickGap: number;
  opacity: number;
  rho: string;
  r2: string;
  legend: LegendSpec;
}

const fmtY = (v: number) => (v < 0 ? '\u2212' + Math.abs(v) : String(v));

function Panel(p: PanelProps) {
  const { frame, legend } = p;
  const data = p.points.map(([x, y]) => ({ x, y }));
  const tick = { fill: '#111', fontSize: p.fontSize, fontFamily: SERIF };
  const boxLeft = frame.left + frame.width - 6 - legend.width;
  return (
    <>
      <div style={{ position: 'absolute', left: frame.left - YW, top: frame.top - PAD }}>
        <ScatterChart width={YW + frame.width + RIGHT} height={PAD + frame.height + XH} margin={{ top: PAD, right: RIGHT, bottom: 0, left: 0 }}>
          <XAxis type="number" dataKey="x" domain={p.xDomain} ticks={p.xTicks} interval={0} allowDataOverflow
            tickFormatter={(v: number) => v.toFixed(p.xDigits)} axisLine={false} tickLine={{ stroke: '#888' }}
            tickSize={3} tickMargin={p.tickGap} height={XH} tick={tick} />
          <YAxis type="number" dataKey="y" domain={p.yDomain} ticks={p.yTicks} interval={0} allowDataOverflow
            tickFormatter={fmtY} axisLine={false} tickLine={{ stroke: '#888' }}
            tickSize={3} tickMargin={1} width={YW} tick={tick} />
          <Scatter data={data} isAnimationActive={false}
            shape={(s: any) => <circle cx={s.cx} cy={s.cy} r={2.3} fill={p.dot} fillOpacity={p.opacity} />} />
          <ReferenceLine ifOverflow="visible" stroke={p.line} strokeWidth={1.3}
            segment={[{ x: p.fit[0][0], y: p.fit[0][1] }, { x: p.fit[1][0], y: p.fit[1][1] }]} />
        </ScatterChart>
      </div>
      {/* axes frame */}
      <div style={{ position: 'absolute', left: frame.left, top: frame.top, width: frame.width, height: frame.height,
        border: '1px solid #999', boxSizing: 'border-box', pointerEvents: 'none' }} />
      {/* legend */}
      <div style={{ position: 'absolute', left: boxLeft, top: frame.top + 7, width: legend.width, height: legend.height,
        border: '1px solid #d4d4d4', borderRadius: 3, background: 'rgba(255,255,255,0.8)', boxSizing: 'border-box' }}>
        <div style={{ position: 'absolute', left: legend.handleLeft, top: legend.height / 2 - 1, width: legend.handle,
          borderTop: `1.5px solid ${p.line}` }} />
        <div style={{ position: 'absolute', left: legend.textLeft, top: legend.padTop, fontFamily: SERIF,
          fontSize: legend.fontSize, lineHeight: `${legend.lineHeight}px`, color: '#111', whiteSpace: 'nowrap' }}>
          <div><i style={{ fontFamily: '"DejaVu Sans"', fontSize: '0.9em' }}>ρ</i>: {p.rho},</div>
          <div><i style={{ fontFamily: '"DejaVu Serif"', fontSize: '0.9em' }}>ℛ</i>
            <sup style={{ fontSize: '0.68em', lineHeight: 0 }}>2</sup>: {p.r2}</div>
        </div>
      </div>
    </>
  );
}

const yfccFrames: Frame[] = [
  { left: 54, top: 48, width: 193, height: 205 },
  { left: 295, top: 48, width: 193, height: 205 },
  { left: 537, top: 48, width: 194, height: 205 },
  { left: 778, top: 48, width: 194, height: 205 },
];
const fmowFrames: Frame[] = [
  { left: 54, top: 335, width: 204, height: 206 },
  { left: 293, top: 335, width: 205, height: 206 },
  { left: 533, top: 335, width: 204, height: 206 },
  { left: 773, top: 335, width: 203, height: 206 },
];
const yfccXDomains: [number, number][] = [[0.4168, 0.66], [0.4565, 0.856], [0.133, 1.015], [0.104, 1.021]];
const fmowXDomains: [number, number][] = [[0.272, 0.6825], [0.5185, 0.767], [0.219, 0.9286], [0.1357, 0.9887]];

const yfccLegend: LegendSpec = { width: 81, height: 38, handleLeft: 5, handle: 13, textLeft: 22, fontSize: 14, lineHeight: 16, padTop: 2.5 };
const fmowLegend: LegendSpec = { width: 98, height: 38, handleLeft: 6, handle: 28, textLeft: 40, fontSize: 14.5, lineHeight: 16.5, padTop: 2 };

export default function App() {
  const yfccPoints = [yfccResnet, yfccGeoclip, yfccSatclip, yfccGeodesic];
  const yfccFits = [fitYfccResnet, fitYfccGeoclip, fitYfccSatclip, fitYfccGeodesic];
  const fmowPoints = [fmowResnet, fmowGeoclip, fmowSatclip, fmowGeodesic];
  const fmowFits = [fitFmowResnet, fitFmowGeoclip, fitFmowSatclip, fitFmowGeodesic];
  const yfccDigits = [1, 1, 2, 2];
  const fmowDigits = [1, 2, 1, 1];
  const yfccLabelX = [146, 392, 630, 868];

  return (
    <div style={{ position: 'absolute', left: 0, top: 0, width: 985, height: 621, background: '#fff', overflow: 'hidden' }}>
      <svg width={985} height={621} style={{ position: 'absolute', left: 0, top: 0 }} fontFamily={SERIF}>
        <text x={492} y={19.5} textAnchor="middle" fontSize={18} fontWeight="bold" fill="#000">
          OT on the Map: Quantifying Domain Shifts in Geographic Space
        </text>
        <line x1={4} x2={981} y1={26} y2={26} stroke="#000" strokeWidth={2} />
        <text transform="translate(19.5,149) rotate(-90)" textAnchor="middle" fontSize={13.4} fill="#111">
          Relative Change in Test Accuracy (%)
        </text>
        <text transform="translate(19.8,431) rotate(-90)" textAnchor="middle" fontSize={14.4} fill="#111">
          Relative Change in Test Accuracy (%)
        </text>
        {xLabels.map((t, i) => (
          <text key={'a' + i} x={yfccLabelX[i]} y={281} textAnchor="middle" fontSize={13.3} fill="#111">{t}</text>
        ))}
        {xLabels.map((t, i) => (
          <text key={'b' + i} x={fmowFrames[i].left + fmowFrames[i].width / 2} y={570} textAnchor="middle" fontSize={14} fill="#111">{t}</text>
        ))}
        <text x={492} y={310} textAnchor="middle" fontSize={18} fill="#111">
          <tspan fontStyle="italic">(a)</tspan> Geo-YFCC-Image
        </text>
        <text x={490} y={599} textAnchor="middle" fontSize={18} fill="#111">
          <tspan fontStyle="italic">(b)</tspan> FMoW-Wilds
        </text>
      </svg>
      {yfccFrames.map((f, i) => (
        <Panel key={'y' + i} frame={f} xDomain={yfccXDomains[i]} yDomain={[-100.3, -11.94]} xTicks={yfccXTicks[i]}
          xDigits={yfccDigits[i]} yTicks={yfccYTicks} points={yfccPoints[i]} fit={yfccFits[i]} dot={DOTS[i]} line={LINES[i]}
          fontSize={13.3} tickGap={1} opacity={0.4} rho={yfccRho[i]} r2={yfccR2[i]} legend={yfccLegend} />
      ))}
      {fmowFrames.map((f, i) => (
        <Panel key={'f' + i} frame={f} xDomain={fmowXDomains[i]} yDomain={[-106, 23.8]} xTicks={fmowXTicks[i]}
          xDigits={fmowDigits[i]} yTicks={fmowYTicks} points={fmowPoints[i]} fit={fmowFits[i]} dot={DOTS[i]} line={LINES[i]}
          fontSize={14} tickGap={0} opacity={0.38} rho={fmowRho[i]} r2={fmowR2[i]} legend={fmowLegend} />
      ))}
    </div>
  );
}
